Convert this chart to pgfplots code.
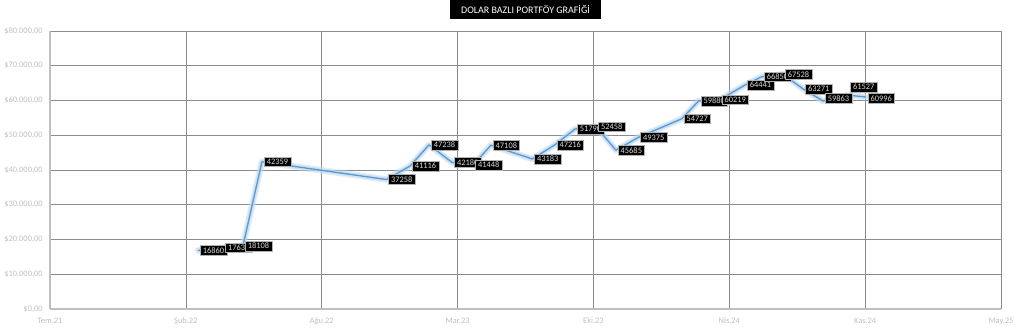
\documentclass[border=0pt]{standalone}
\usepackage{pgfplots}
\pgfplotsset{compat=1.18}
\usepackage{pgfplotstable}
\usepackage{fontspec}
\setmainfont{Carlito}
\definecolor{lineblue}{HTML}{5B9BD5}
\definecolor{glowblue}{HTML}{BDD7EE}
\definecolor{gridgray}{HTML}{8C8C8C}
\definecolor{ticklbl}{HTML}{BFBFBF}
\definecolor{axisgray}{HTML}{BFBFBF}

\pgfplotstableread{
x y lbl dy
218 16860 16860 0
255 17630 17630 0
284 18108 18108 0
312 42359 42359 0
495 37258 37258 0
530 41116 41116 0
558 47238 47238 0
592 42180 42180 0
623 41448 41448 0
649 47108 47108 0
710 43183 43183 0
743 47216 47216 0
773 51790 51790 0
804 52458 52458 0
833 45685 45685 0
866 49375 49375 0
930 54727 54727 0
955 59880 59880 0
986 60219 60219 0
1023 64441 64441 0
1048 66850 66850 0
1079 67528 67528 0
1109 63271 63271 0
1138 59863 59863 2
1175 61527 61527 6
1201 60996 60996 -1
}\datatable

\begin{document}
\begin{tikzpicture}
\begin{axis}[
  name=ax,
  scale only axis,
  width=713.25pt, height=208.5pt,
  xmin=0, xmax=1400, ymin=0, ymax=80000,
  xtick={0,200,400,600,800,1000,1200,1400},
  xticklabels={Tem.21,Şub.22,Ağu.22,Mar.23,Eki.23,Nis.24,Kas.24,May.25},
  ytick={0,10000,20000,30000,40000,50000,60000,70000,80000},
  yticklabels={{\$0,00},{\$10.000,00},{\$20.000,00},{\$30.000,00},{\$40.000,00},{\$50.000,00},{\$60.000,00},{\$70.000,00},{\$80.000,00}},
  scaled y ticks=false,
  grid=major,
  major grid style={gridgray, line width=0.5pt},
  axis x line*=bottom, axis y line*=left,
  axis line style={axisgray, line width=1.2pt, -},
  major tick length=0pt,
  tick label style={font=\fontsize{6.3}{7}\selectfont, text=ticklbl},
  yticklabel style={xshift=-2pt},
  xticklabel style={yshift=-3pt},
  /pgf/number format/assume math mode=true,
  title={DOLAR BAZLI PORTFÖY GRAFİĞİ},
  title style={fill=black, text=white, font=\fontsize{7.5}{9}\selectfont,
    inner sep=0pt, minimum width=113pt, minimum height=14.25pt,
    at={(0.5,1)}, anchor=south, yshift=3pt},
  clip=false,
]
\addplot[glowblue, line width=5pt, opacity=0.45, line join=round, line cap=round] table[x=x,y=y]{\datatable};
\addplot[glowblue, line width=3pt, opacity=0.6, line join=round, line cap=round] table[x=x,y=y]{\datatable};
\addplot[lineblue, line width=1pt, line join=round,
  visualization depends on={\thisrow{dy} \as \dy},
  nodes near coords, point meta=explicit symbolic,
  nodes near coords style={fill=black, text=white!85!black, draw=gray!60, line width=0.3pt,
    font=\fontsize{6.3}{7}\selectfont, anchor=west, inner xsep=2pt, inner ysep=1.5pt,
    xshift=1.5pt, yshift=\dy pt}]
  table[x=x,y=y,meta=lbl]{\datatable};
\end{axis}
\pgfresetboundingbox
\path[use as bounding box] ([shift={(-37.5pt,-20.25pt)}]ax.south west) rectangle ([shift={(15pt,23.25pt)}]ax.north east);
\end{tikzpicture}
\end{document}
